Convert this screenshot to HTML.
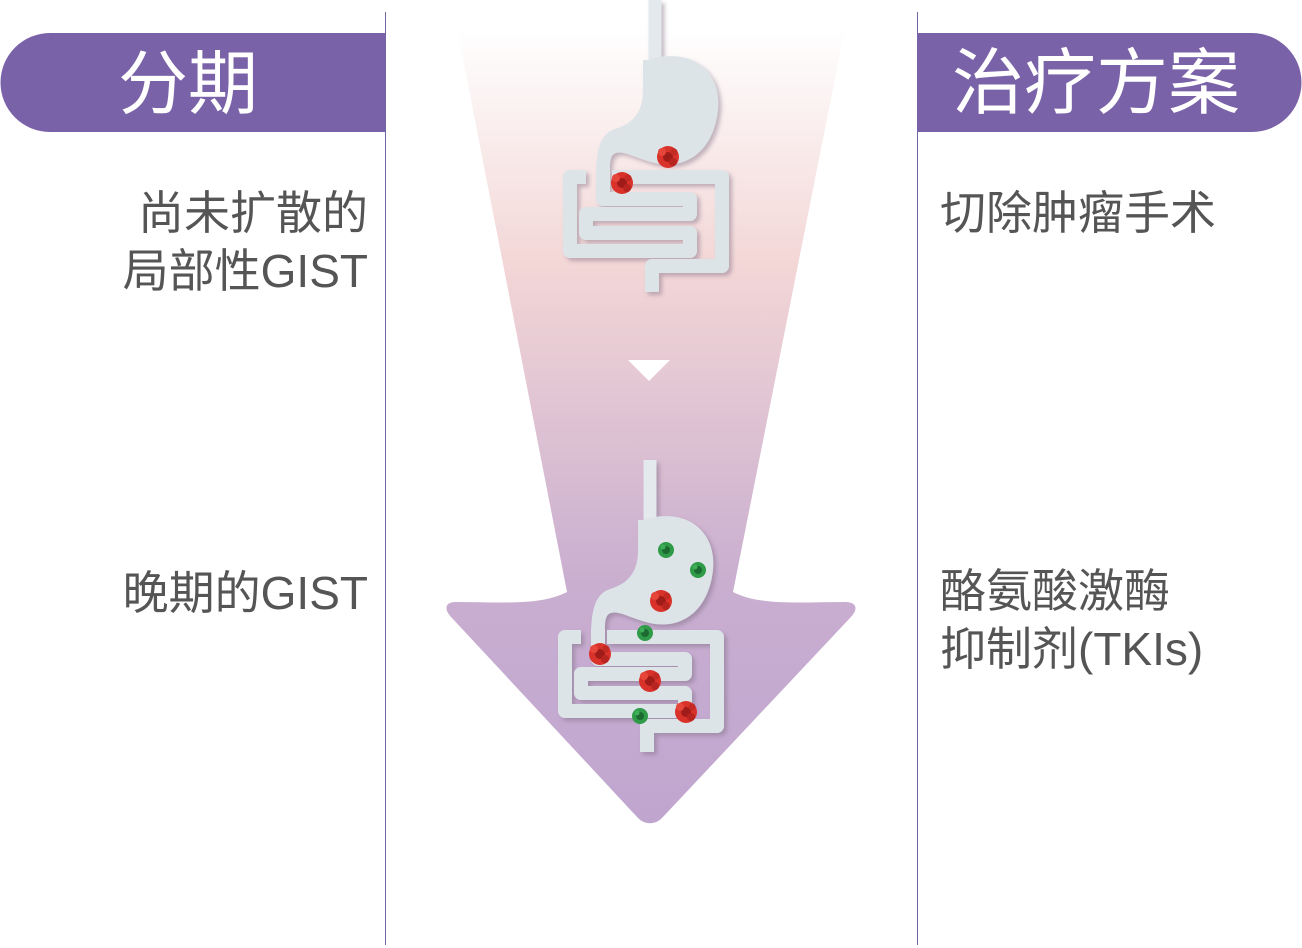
<!DOCTYPE html>
<html><head><meta charset="utf-8"><style>
html,body{margin:0;padding:0;background:#fff;}
body{width:1302px;height:948px;position:relative;overflow:hidden;font-family:"Liberation Sans","Noto Sans CJK SC",sans-serif;}
.t{position:absolute;color:#555;font-size:46px;line-height:58px;white-space:nowrap;}
</style></head><body>
<svg width="1302" height="948" style="position:absolute;left:0;top:0">
<defs>
<linearGradient id="g" gradientUnits="userSpaceOnUse" x1="0" y1="28" x2="0" y2="822">
<stop offset="0" stop-color="#ffffff"/>
<stop offset="0.3" stop-color="#f3d6d6"/>
<stop offset="0.7" stop-color="#c9aed0"/>
<stop offset="1" stop-color="#c0a6cf"/>
</linearGradient>
<filter id="sh" x="-20%" y="-20%" width="140%" height="140%"><feDropShadow dx="3" dy="3" stdDeviation="2" flood-color="#7a6a80" flood-opacity="0.45"/></filter>
<g id="organ">
<path d="M655,0 V68" stroke="#e3e9ec" stroke-width="13" fill="none"/>
<path d="M648,60 C692,46 722,72 718,110 C714,148 690,168 660,164 C640,161 625,150 616,153 C609,155 610,165 610,178 L596,178 C596,150 600,134 615,129 C635,123 643,110 643,90 L643,60 Z" fill="#dde4e8"/>
<path d="M603,170 V199 H690 V214 H586 V233 H690 V251 H570 V177 H586" stroke="#dde4e8" stroke-width="14" fill="none" stroke-linejoin="round"/>
<path d="M612,177 H722 V266 H652 V292" stroke="#dde4e8" stroke-width="14" fill="none" stroke-linejoin="round"/>
</g>
<g id="red"><circle r="11" fill="#d8322a"/><circle r="5" fill="#a01c18"/><circle cx="-6" cy="-5" r="4" fill="#e6453a"/><circle cx="5" cy="5" r="4" fill="#b82420"/><circle cx="6" cy="-5" r="3.5" fill="#c42a24"/></g>
<g id="grn"><circle r="8" fill="#2f9a48"/><circle r="4" fill="#1c6a30"/><circle cx="-3" cy="-3" r="2.5" fill="#3fae58"/></g>
</defs>
<line x1="385.5" y1="12" x2="385.5" y2="945" stroke="#6e66a0" stroke-width="1"/>
<line x1="917.5" y1="12" x2="917.5" y2="945" stroke="#6e66a0" stroke-width="1"/>
<path d="M50,33 H385 V132 H50 A49.5,49.5 0 0 1 50,33 Z" fill="#7a62a8"/>
<path d="M917,33 H1252 A49.5,49.5 0 0 1 1252,132 H917 Z" fill="#7a62a8"/>
<path d="M457,28 H845 L733,592 C760,606 800,602 845,602 C858,602 858,610 850,618 L662,818 C655,825 645,825 638,818 L452,618 C444,610 444,602 456,602 C500,602 540,606 567,592 Z" fill="url(#g)"/>
<polygon points="628,360 670,360 649,381" fill="#fff"/>
<g filter="url(#sh)"><use href="#organ"/></g>
<g filter="url(#sh)" transform="translate(-5,460)"><use href="#organ"/></g>
<use href="#red" x="668" y="157"/><use href="#red" x="622" y="183"/>
<use href="#grn" x="666" y="550"/><use href="#grn" x="698" y="570"/><use href="#red" x="661" y="601"/>
<use href="#grn" x="645" y="633"/><use href="#red" x="600" y="654"/><use href="#red" x="650" y="681"/>
<use href="#grn" x="640" y="716"/><use href="#red" x="686" y="712"/>
</svg>
<div class="t" style="left:118px;top:42px;color:#fff;font-size:70px;line-height:84px;">分期</div>
<div class="t" style="left:952px;top:41px;color:#fff;font-size:72px;line-height:86px;">治疗方案</div>
<div class="t" style="right:934px;top:184px;text-align:right;">尚未扩散的<br>局部性GIST</div>
<div class="t" style="right:934px;top:564px;text-align:right;">晚期的GIST</div>
<div class="t" style="left:940px;top:184px;">切除肿瘤手术</div>
<div class="t" style="left:940px;top:562px;">酪氨酸激酶<br>抑制剂(TKIs)</div>
</body></html>
